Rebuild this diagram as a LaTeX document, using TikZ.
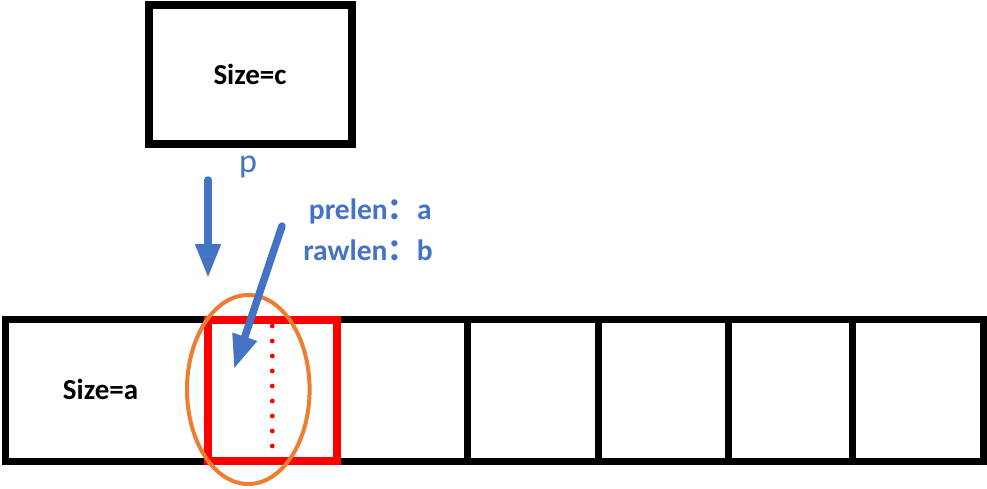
\documentclass[tikz,border=0pt]{standalone}
\usepackage{fontspec}
\setmainfont{Carlito}
\newfontfamily\cjk{Noto Sans CJK SC}
\usetikzlibrary{arrows.meta,shapes.geometric}
\definecolor{pblue}{HTML}{4472C4}
\definecolor{porange}{HTML}{ED7D31}
\definecolor{pred}{HTML}{FF0000}
\begin{document}
\begin{tikzpicture}[x=1pt,y=-1pt,
  cellbox/.style={draw=black, line width=7pt, inner sep=0pt, minimum height=141.7pt},
  lbl/.style={inner sep=0pt, anchor=base, font=\bfseries\fontsize{29}{29}\selectfont},
  bluelbl/.style={inner sep=0pt, anchor=base east, text=pblue, font=\bfseries\fontsize{29.5}{29.5}\selectfont},
  barrow/.style={draw=pblue, line width=7.5pt, line cap=round, -{Triangle[length=34pt,width=24pt]}},
  dotmark/.style={fill=pred, draw=none}
]
\useasboundingbox (0,0) rectangle (987,488);
% top box
\node[draw=black, line width=8pt, inner sep=0pt, minimum width=202.5pt, minimum height=139.5pt] (boxc) at (250.25,74.25) {};
\node[lbl] (labc) at (250,84) {Size=c};
% row of cells
\node[cellbox, minimum width=202.5pt] (cell0) at (106.25,390.35) {};
\node[cellbox, minimum width=130.8pt] (cell2) at (402.4,390.35) {};
\node[cellbox, minimum width=130.8pt] (cell3) at (533.2,390.35) {};
\node[cellbox, minimum width=130.1pt] (cell4) at (663.65,390.35) {};
\node[cellbox, minimum width=124.2pt] (cell5) at (790.8,390.35) {};
\node[cellbox, minimum width=130.5pt] (cell6) at (918.15,390.35) {};
\node[draw=pred, line width=8pt, inner sep=0pt, minimum width=129.5pt, minimum height=141pt] (cell1) at (272.25,390.5) {};
\node[lbl] (laba) at (100.5,399) {Size=a};
% dotted line
\foreach \i in {0,...,8} \fill[dotmark] (272.3,326+15*\i) circle (2.4pt);
% orange ellipse
\node[ellipse, draw=porange, line width=4pt, inner sep=0pt, minimum width=122.6pt, minimum height=189pt] (oval) at (248.3,389.5) {};
% labels
\node[inner sep=0pt, anchor=base, text=pblue, font=\fontsize{34}{34}\selectfont] (labp) at (248,172) {p};
\node[bluelbl] (labpre) at (432,219) {prelen{\cjk ：}a};
\node[bluelbl] (labraw) at (433,260) {rawlen{\cjk ：}b};
% arrows
\coordinate (a1s) at (208,180);
\coordinate (a1e) at (208,278);
\coordinate (a2s) at (282,226);
\coordinate (a2e) at (234,369);
\draw[barrow] (a1s) -- (a1e);
\draw[barrow] (a2s) -- (a2e);
\end{tikzpicture}
\end{document}
